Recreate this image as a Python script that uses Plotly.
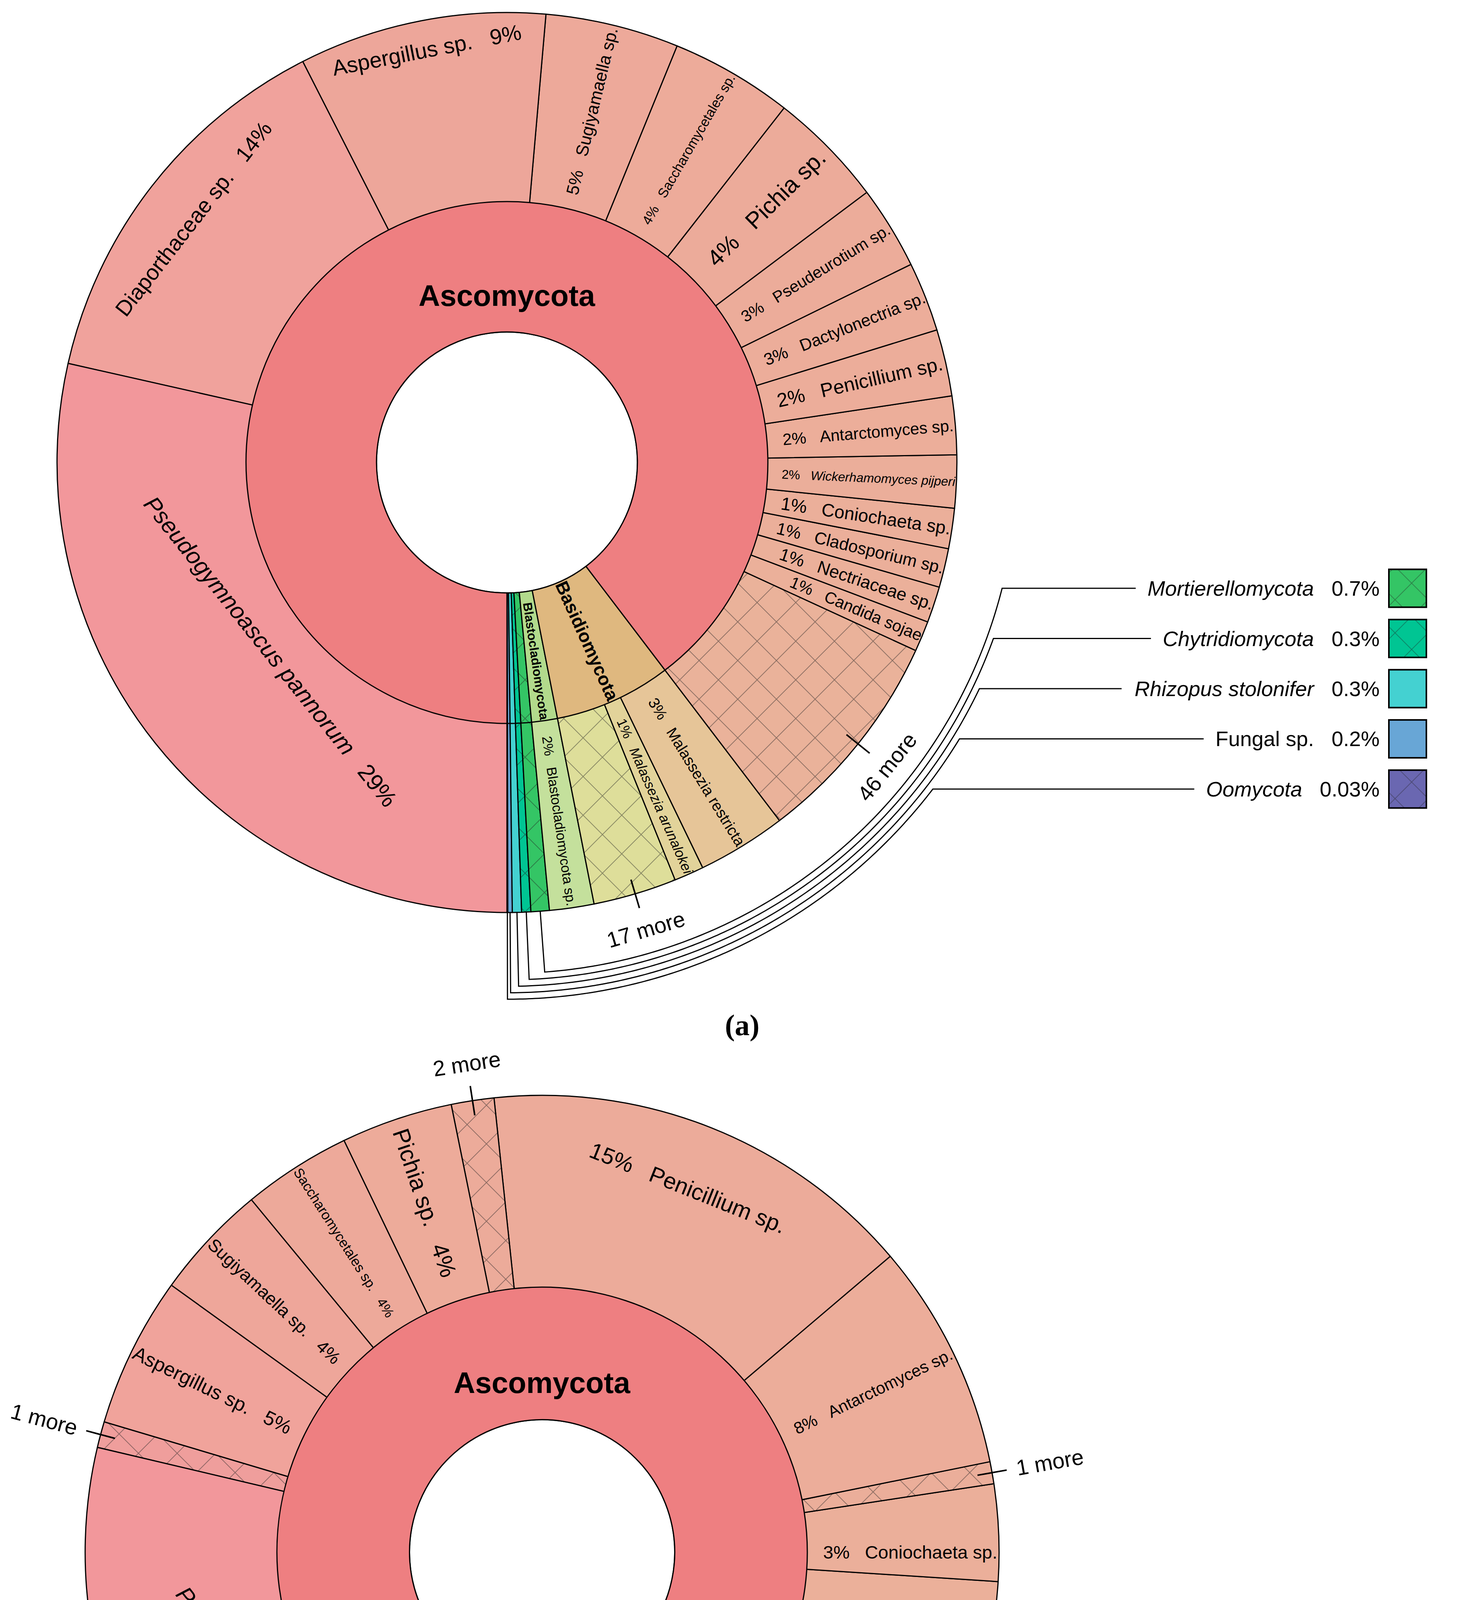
import math
import re
import plotly.graph_objects as go

W, H = 3797, 5406
FONT = "Liberation Sans, Arial, Helvetica, sans-serif"
NB = "\u00a0\u00a0\u00a0"

# ======================= DATA : panel (a) =======================
A_PHYLA = ["Ascomycota", "Basidiomycota", "Blastocladiomycota", "Mortierellomycota",
           "Chytridiomycota", "Rhizopus stolonifer", "Fungal sp.", "Oomycota"]
A_ASCO_TAXA = ["Pseudogymnoascus pannorum", "Diaporthaceae sp.", "Aspergillus sp.", "Sugiyamaella sp.",
               "Saccharomycetales sp.", "Pichia sp.", "Pseudeurotium sp.", "Dactylonectria sp.",
               "Penicillium sp.", "Antarctomyces sp.", "Wickerhamomyces pijperi", "Coniochaeta sp.",
               "Cladosporium sp.", "Nectriaceae sp.", "Candida sojae", "46 more"]
A_ASCO_PCT = [28.6, 14.0, 8.9, 4.8, 4.4, 4.2, 3.0, 2.5, 2.4, 2.1, 1.9, 1.45, 1.4, 1.3, 1.1, 7.8]
A_ASCO_LBL = ["29%", "14%", "9%", "5%", "4%", "4%", "3%", "3%", "2%", "2%", "2%", "1%", "1%", "1%", "1%", ""]
A_BASI_TAXA = ["Malassezia restricta", "Malassezia arunalokei", "17 more"]
A_BASI_PCT = [3.2, 1.07, 3.0]
A_BASI_LBL = ["3%", "1%", ""]
A_BLAS_TAXA = ["Blastocladiomycota sp."]
A_BLAS_PCT = [1.6]
A_BLAS_LBL = ["2%"]
A_MINOR = ["Mortierellomycota", "Chytridiomycota", "Rhizopus stolonifer", "Fungal sp.", "Oomycota"]
A_MINOR_PCT = [0.66, 0.33, 0.33, 0.16, 0.03]
A_MINOR_LBL = ["0.7%", "0.3%", "0.3%", "0.2%", "0.03%"]

# ======================= DATA : panel (b) =======================
B_PHYLA = ["Ascomycota", "Basidiomycota", "Blastocladiomycota", "Chytridiomycota", "Fungal sp."]
B_ASCO_TAXA = ["Pseudogymnoascus pannorum", "1 more", "Aspergillus sp.", "Sugiyamaella sp.",
               "Saccharomycetales sp.", "Pichia sp.", "2 more", "Penicillium sp.", "Antarctomyces sp.",
               "1 more", "Coniochaeta sp.", "Cladosporium sp.", "Nectriaceae sp.", "4 more",
               "Wickerhamiella kurtzmanii", "10 more", "Curvularia affinis", "Alternaria sp.", "8 more"]
B_ASCO_PCT = [28.7, 0.92, 5.33, 4.09, 3.84, 3.95, 1.51, 15.47, 8.04, 0.78, 3.42, 4.47, 1.53, 1.86,
              2.05, 1.96, 2.74, 1.28, 1.75]
B_ASCO_LBL = ["29%", "", "5%", "4%", "4%", "4%", "", "15%", "8%", "", "3%", "4%", "2%", "",
              "2%", "", "3%", "1%", ""]
B_BASI_TAXA = ["Malassezia restricta", "4 more"]
B_BASI_PCT = [1.24, 1.36]
B_BASI_LBL = ["1%", ""]
B_BLAS_TAXA = ["Blastocladiomycota sp."]
B_BLAS_PCT = [0.74]
B_BLAS_LBL = [""]
B_CHYT_TAXA = ["Lobulomycetales sp.", "Chytridiomycota sp."]
B_CHYT_PCT = [1.04, 0.70]
B_CHYT_LBL = ["1%", ""]
B_FUNG_TAXA = ["Fungal sp."]
B_FUNG_PCT = [1.27]
B_FUNG_LBL = ["1%"]
B_LEGEND = ["Blastocladiomycota"]
B_LEGEND_LBL = ["0.7%"]

# ======================= STYLES =======================
A_PHYLUM_COLORS = {"Ascomycota": "#EE7F81", "Basidiomycota": "#DFB87F", "Blastocladiomycota": "#B2DA8C",
                   "Mortierellomycota": "#34C565", "Chytridiomycota": "#00C593",
                   "Rhizopus stolonifer": "#44D1D1", "Fungal sp.": "#68A6D6", "Oomycota": "#6A67B1"}
A_CHILD_COLORS = {
    "Ascomycota": ["#F2979B", "#F0A29C", "#EDA69A", "#EDA99A", "#EDAB9A", "#ECAB9A", "#ECAC9A", "#ECAD9A",
                   "#ECAD9A", "#ECAE9A", "#EBAE9A", "#EBAF9A", "#EBAF9A", "#EBB09A", "#EBB09A", "#EAB29A"],
    "Basidiomycota": ["#E6C598", "#E2D39A", "#DEDE9A"],
    "Blastocladiomycota": ["#C4E09C"],
}
B_PHYLUM_COLORS = {"Ascomycota": "#EE7F81", "Basidiomycota": "#DFB87F", "Blastocladiomycota": "#A3D063",
                   "Chytridiomycota": "#4ECAA0", "Fungal sp.": "#68A6D6"}
B_CHILD_COLORS = {
    "Ascomycota": ["#F2979B", "#EF9E9C", "#F0A39B", "#EEA69A", "#EDA99A", "#EDAB9A", "#ECAB9A", "#ECAB9A",
                   "#ECAD9A", "#EBAE9A", "#EBAF9A", "#EBB09A", "#EBB09A", "#EBB09A", "#EBB19A", "#EAB19A",
                   "#EAB29A", "#EAB29A", "#EAB29A"],
    "Basidiomycota": ["#E6C598", "#DEDE9A"],
    "Blastocladiomycota": ["#A3D063"],
    "Chytridiomycota": ["#80D9C2", "#80D9C8"],
    "Fungal sp.": ["#68A6D6"],
}

A_CFG = dict(
    key="A", cx=1290, cy=1176, R=1152, r_in=668,
    phylum_colors=A_PHYLUM_COLORS, child_colors=A_CHILD_COLORS,
    phylum_text={"Ascomycota": 76, "Basidiomycota": 54, "Blastocladiomycota": 34},
    hatched_phyla={"Mortierellomycota", "Chytridiomycota", "Oomycota"},
    hatched_children={"Mortierellomycota", "Chytridiomycota", "Oomycota"},
    name_first={"Pseudogymnoascus pannorum", "Diaporthaceae sp.", "Aspergillus sp."},
    italic={"Pseudogymnoascus pannorum", "Wickerhamomyces pijperi", "Malassezia arunalokei"},
    tangential={"Ascomycota", "Pseudogymnoascus pannorum", "Diaporthaceae sp.", "Aspergillus sp."},
    sizes={"Pseudogymnoascus pannorum": 60, "Diaporthaceae sp.": 56, "Aspergillus sp.": 56,
           "Pichia sp.": 60, "Wickerhamomyces pijperi": 34, "Saccharomycetales sp.": 40},
    default_size=50,
    radial_more=set(),
)
B_CFG = dict(
    key="B", cx=1380, cy=3966, R=1170, r_in=679,
    phylum_colors=B_PHYLUM_COLORS, child_colors=B_CHILD_COLORS,
    phylum_text={"Ascomycota": 76, "Basidiomycota": 52, "Chytridiomycota": 44},
    hatched_phyla=set(),
    hatched_children={"Blastocladiomycota sp.", "Chytridiomycota sp."},
    name_first={"Pseudogymnoascus pannorum", "Aspergillus sp.", "Sugiyamaella sp.", "Saccharomycetales sp.",
                "Pichia sp."},
    italic={"Pseudogymnoascus pannorum"},
    tangential={"Ascomycota", "Pseudogymnoascus pannorum", "Penicillium sp."},
    sizes={"Pseudogymnoascus pannorum": 60, "Penicillium sp.": 58, "Pichia sp.": 60,
           "Saccharomycetales sp.": 38, "Wickerhamiella kurtzmanii": 36, "Fungal sp.": 60},
    default_size=52,
    radial_more={1, 9},   # indices of Ascomycota "more" wedges labelled radially
)

CW = {' ': 0.278, '\u00a0': 0.278, '.': 0.278, '%': 0.889, 'i': 0.222, 'l': 0.222, 'j': 0.222,
      'r': 0.333, 't': 0.278, 'f': 0.278, 'm': 0.833, 'w': 0.722, 'M': 0.833, 'O': 0.778,
      'C': 0.722, 'R': 0.722, 'F': 0.611, 'B': 0.667, 'c': 0.5, 'y': 0.5, 's': 0.5, 'k': 0.5}


def text_w(s, fs):
    s = re.sub(r"<[^>]+>", "", s)
    return fs * sum(CW.get(c, 0.667 if c.isupper() else 0.556) for c in s)


def px2paper(x, y):
    return x / W, 1 - y / H


def polar(cfg, r, th):
    a = math.radians(th)
    return cfg["cx"] + r * math.sin(a), cfg["cy"] - r * math.cos(a)


def domain(cfg, r):
    return dict(x=[(cfg["cx"] - r) / W, (cfg["cx"] + r) / W],
                y=[1 - (cfg["cy"] + r) / H, 1 - (cfg["cy"] - r) / H])


CLEAR = "rgba(0,0,0,0)"


def sun(recs, dom, **kw):
    return go.Sunburst(ids=[r[0] for r in recs], labels=[r[1] for r in recs], parents=[r[2] for r in recs],
                       values=[r[3] for r in recs], branchvalues="remainder", sort=False, rotation=-90,
                       domain=dom, hoverinfo="skip", leaf=dict(opacity=1), **kw)


def build(cfg, phyla, groups):
    key = cfg["key"]
    # wedge angles (compass degrees; start at 6 o'clock, run clockwise)
    total = sum(sum(g[1]) for g in groups)
    cum, geo = 0, []
    for ph, (taxa, pct, lbl) in zip(phyla, groups):
        for i, (t, v) in enumerate(zip(taxa, pct)):
            a0 = 180 + 360 * cum / total
            cum += v
            a1 = 180 + 360 * cum / total
            geo.append((ph, i, t, a0 % 360, ((a0 + a1) / 2) % 360, a1 % 360))
    mid = {(g[0], g[1]): g[4] for g in geo}

    P, S = [], []   # rec: (id, label, parent, value, text, color, shape, size, orient)
    hidden = cfg["r_in"] - cfg["R"] / 2           # part of the outer sector hidden under the inner ring
    vis_len = cfg["R"] - cfg["r_in"] - 45
    for ph, (taxa, pct, lbl) in zip(phyla, groups):
        P.append((f"{key}P/{ph}", ph, key + "P", sum(pct),
                  f"<b>{ph}</b>" if ph in cfg["phylum_text"] else "",
                  cfg["phylum_colors"][ph], "x" if ph in cfg["hatched_phyla"] else "",
                  cfg["phylum_text"].get(ph, 30), "t" if ph in cfg["tangential"] else "r"))
        clist = cfg["child_colors"].get(ph, [cfg["phylum_colors"][ph]] * len(taxa))
        for i, (t, v, l) in enumerate(zip(taxa, pct, lbl)):
            o = "t" if t in cfg["tangential"] else "r"
            size = cfg["sizes"].get(t, cfg["default_size"])
            tx = ""
            if l:
                nm = f"<i>{t}</i>" if t in cfg["italic"] else t
                tx = nm + NB + l if t in cfg["name_first"] else l + NB + nm
                if o == "r":
                    size = min(size, vis_len / text_w(tx, 1))
                    pad = "\u00a0" * int(math.ceil((hidden + 30) / (0.278 * size)))
                    tx = pad + tx if mid[(ph, i)] < 180 else tx + pad
            S.append((f"{key}S/{ph}/{i}", t, key + "S", v, tx, clist[i],
                      "x" if (t.endswith(" more") or t in cfg["hatched_children"]) else "", size, o))
    # plotly lays sectors counter-clockwise: reverse so the reading order runs clockwise from 6 o'clock
    P = [(key + "P", "Fungi", "", 0, "", "white", "", 10, "r")] + P[::-1]
    S = [(key + "S", "Fungi", "", 0, "", CLEAR, "", 10, "r")] + S[::-1]
    dS, dP = domain(cfg, cfg["R"]), domain(cfg, cfg["r_in"])
    line = dict(color="black", width=3)
    pat = dict(fillmode="overlay", fgcolor="#222222", size=70, solidity=0.05)
    traces = [
        sun(S, dS, textinfo="none",
            marker=dict(colors=[r[5] for r in S], line=line, pattern=dict(shape=[r[6] for r in S], **pat))),
        sun(P, dP, textinfo="text", texttemplate="%{text}", insidetextorientation="radial",
            text=[r[4] if r[8] == "r" else "" for r in P],
            textfont=dict(family=FONT, size=[r[7] for r in P], color="black"),
            marker=dict(colors=[r[5] for r in P], line=line, pattern=dict(shape=[r[6] for r in P], **pat))),
    ]
    for recs, dom, orient in [(S, dS, "r"), (S, dS, "t"), (P, dP, "t")]:
        traces.append(sun(recs, dom, textinfo="text", texttemplate="%{text}",
                          insidetextorientation="radial" if orient == "r" else "tangential",
                          text=[r[4] if r[8] == orient else "" for r in recs],
                          textfont=dict(family=FONT, size=[r[7] for r in recs], color="black"),
                          marker=dict(colors=[CLEAR] * len(recs), line=dict(color=CLEAR, width=0))))
    return traces, geo


fig = go.Figure()
shapes, annos, legend_traces = [], [], []

A_GROUPS = [(A_ASCO_TAXA, A_ASCO_PCT, A_ASCO_LBL), (A_BASI_TAXA, A_BASI_PCT, A_BASI_LBL),
            (A_BLAS_TAXA, A_BLAS_PCT, A_BLAS_LBL)] + [([m], [p], [""]) for m, p in zip(A_MINOR, A_MINOR_PCT)]
B_GROUPS = [(B_ASCO_TAXA, B_ASCO_PCT, B_ASCO_LBL), (B_BASI_TAXA, B_BASI_PCT, B_BASI_LBL),
            (B_BLAS_TAXA, B_BLAS_PCT, B_BLAS_LBL), (B_CHYT_TAXA, B_CHYT_PCT, B_CHYT_LBL),
            (B_FUNG_TAXA, B_FUNG_PCT, B_FUNG_LBL)]


def swatch(x0, x1, yc, h, color, hatched):
    return go.Treemap(labels=["s"], parents=[""], values=[1], textinfo="none", hoverinfo="skip",
                      domain=dict(x=[x0 / W, x1 / W], y=[1 - (yc + h / 2) / H, 1 - (yc - h / 2) / H]),
                      pathbar=dict(visible=False), tiling=dict(pad=0),
                      marker=dict(colors=[color], line=dict(color="black", width=4),
                                  pattern=dict(shape="x" if hatched else "", fillmode="overlay",
                                               fgcolor="#222222", size=60, solidity=0.05)))


def more_labels(cfg, geo):
    R = cfg["R"]
    for ph, i, t, a0, am, a1 in geo:
        if not t.endswith(" more"):
            continue
        pa = px2paper(*polar(cfg, R - 38, am))
        pb = px2paper(*polar(cfg, R + 38, am))
        shapes.append(dict(type="line", xref="paper", yref="paper", x0=pa[0], y0=pa[1], x1=pb[0], y1=pb[1],
                           line=dict(color="black", width=4)))
        if ph == "Ascomycota" and i in cfg["radial_more"]:
            p = px2paper(*polar(cfg, R + 150, am))
            ang = am - 90
        else:
            p = px2paper(*polar(cfg, R + 95, am))
            ang = am
        while ang > 90:
            ang -= 180
        while ang <= -90:
            ang += 180
        annos.append(dict(x=p[0], y=p[1], xref="paper", yref="paper", text=t, showarrow=False,
                          textangle=ang, font=dict(family=FONT, size=56, color="black"),
                          xanchor="center", yanchor="middle"))


def bracket(cfg, theta, r_arc, y_lab, x_end):
    pts = [polar(cfg, cfg["R"], theta), polar(cfg, r_arc, theta)]
    phi = math.degrees(math.acos((cfg["cy"] - y_lab) / r_arc))
    n = 160
    for k in range(1, n + 1):
        pts.append(polar(cfg, r_arc, theta + (phi - theta) * k / n))
    pts.append((x_end, y_lab))
    path = "M " + " L ".join("%.6f,%.6f" % px2paper(x, y) for x, y in pts)
    shapes.append(dict(type="path", xref="paper", yref="paper", path=path,
                       line=dict(color="black", width=3)))


# ---- panel (a)
tr, geoA = build(A_CFG, A_PHYLA, A_GROUPS)
for t in tr:
    fig.add_trace(t)
more_labels(A_CFG, geoA)
LEG_A_Y0, LEG_A_DY, LEG_A_RIGHT = 1498, 128.5, 3526
for k, (m, lbl) in enumerate(zip(A_MINOR, A_MINOR_LBL)):
    am = [g[4] for g in geoA if g[0] == m][0]
    y = LEG_A_Y0 + LEG_A_DY * k
    name = m if m == "Fungal sp." else f"<i>{m}</i>"
    x_end = LEG_A_RIGHT - text_w(m + NB + lbl, 54) - 32
    bracket(A_CFG, am, A_CFG["R"] + 156 + 16.5 * k, y, x_end)
    px, py = px2paper(LEG_A_RIGHT, y)
    annos.append(dict(x=px, y=py, xref="paper", yref="paper", text=name + NB + lbl, showarrow=False,
                      xanchor="right", yanchor="middle", font=dict(family=FONT, size=54, color="black")))
    legend_traces.append(swatch(3548, 3644, y, 97, A_PHYLUM_COLORS[m], m in A_CFG["hatched_phyla"]))

# ---- panel (b)
tr, geoB = build(B_CFG, B_PHYLA, B_GROUPS)
for t in tr:
    fig.add_trace(t)
more_labels(B_CFG, geoB)
LEG_B_Y, LEG_B_RIGHT = 4427, 3650
for m, lbl in zip(B_LEGEND, B_LEGEND_LBL):
    am = [g[4] for g in geoB if g[0] == m][0]
    x_end = LEG_B_RIGHT - text_w(m + NB + lbl, 54) - 32
    bracket(B_CFG, am, B_CFG["R"] + 165, LEG_B_Y, x_end)
    px, py = px2paper(LEG_B_RIGHT, LEG_B_Y)
    annos.append(dict(x=px, y=py, xref="paper", yref="paper", text=f"<i>{m}</i>" + NB + lbl, showarrow=False,
                      xanchor="right", yanchor="middle", font=dict(family=FONT, size=54, color="black")))
    legend_traces.append(swatch(3668, 3767, LEG_B_Y, 100, B_PHYLUM_COLORS[m], True))

for t in legend_traces:
    fig.add_trace(t)

# captions
for cap, (cx, cy) in [("(a)", (1892, 2616)), ("(b)", (1892, 5345))]:
    p = px2paper(cx, cy)
    annos.append(dict(x=p[0], y=p[1], xref="paper", yref="paper", text=f"<b>{cap}</b>", showarrow=False,
                      xanchor="center", yanchor="middle",
                      font=dict(family="Liberation Serif, Times New Roman, serif", size=76, color="black")))

fig.update_layout(width=W, height=H, margin=dict(l=0, r=0, t=0, b=0), paper_bgcolor="white",
                  plot_bgcolor="white", showlegend=False, shapes=shapes, annotations=annos)
fig.write_html("out.html")
